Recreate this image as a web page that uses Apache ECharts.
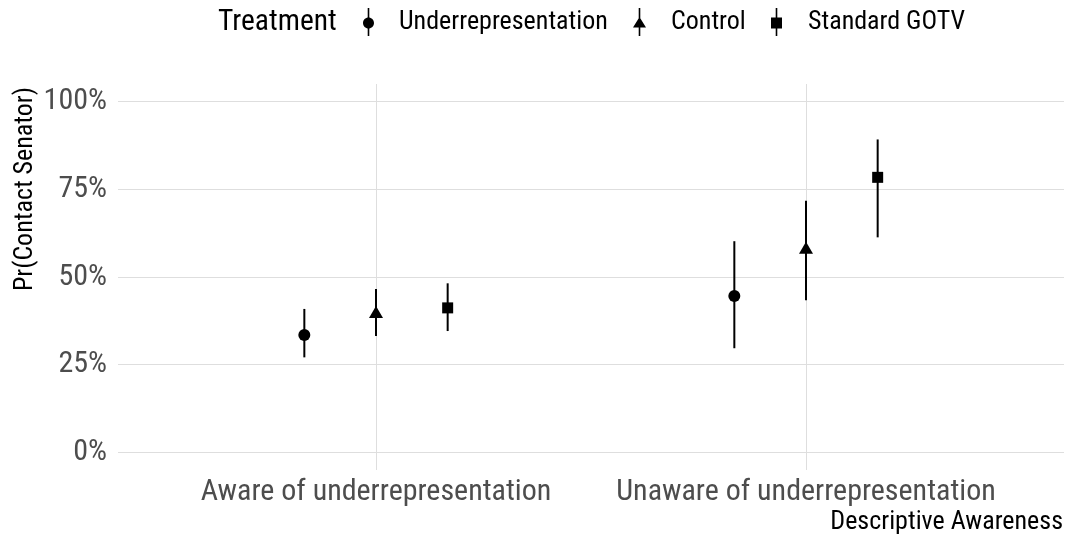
<!DOCTYPE html>
<html>
<head>
<meta charset="utf-8">
<script src="https://cdn.jsdelivr.net/npm/echarts@6/dist/echarts.min.js"></script>
<style>html,body{margin:0;padding:0;background:#fff;}#c{width:1066px;height:537px;}</style>
</head>
<body>
<div id="c"></div>
<script>
const categories = ['Aware of underrepresentation', 'Unaware of underrepresentation'];
const treatments = ['Underrepresentation', 'Control', 'Standard GOTV'];
// estimates per treatment, one value per category
const estUnderrep = [0.335, 0.446];
const lowUnderrep = [0.271, 0.297];
const highUnderrep = [0.409, 0.602];
const estControl = [0.400, 0.583];
const lowControl = [0.332, 0.434];
const highControl = [0.466, 0.717];
const estGotv = [0.412, 0.784];
const lowGotv = [0.346, 0.613];
const highGotv = [0.482, 0.892];
const yTicks = [0, 0.25, 0.5, 0.75, 1];

const FONT = '"Roboto Condensed", "Liberation Sans Narrow", "DejaVu Sans Condensed", "Roboto", sans-serif';
const dodge = [-1/6, 0, 1/6];
const symbols = ['circle', 'triangle', 'rect'];
const symbolSizes = [12, [14, 12], 11];
const est = [estUnderrep, estControl, estGotv];
const low = [lowUnderrep, lowControl, lowGotv];
const high = [highUnderrep, highControl, highGotv];

const series = [];
treatments.forEach((t, i) => {
  const rows = categories.map((c, j) => [j + 1 + dodge[i], est[i][j], low[i][j], high[i][j]]);
  series.push({
    name: t, type: 'custom', data: rows, encode: {x: 0, y: [2, 3]},
    renderItem: (params, api) => {
      const a = api.coord([api.value(0), api.value(2)]);
      const b = api.coord([api.value(0), api.value(3)]);
      return {type: 'line', shape: {x1: a[0], y1: a[1], x2: b[0], y2: b[1]},
        style: {stroke: '#000', lineWidth: 2}};
    }, z: 2
  });
  series.push({
    name: t, type: 'scatter', data: rows.map(r => [r[0], r[1]]),
    symbol: symbols[i], symbolSize: symbolSizes[i],
    itemStyle: {color: '#000', opacity: 1}, z: 3
  });
});

const icons = [
  'path://M7.2,0 H8.8 V28 H7.2 Z M2.5,15 C2.5,11.96 4.96,9.5 8,9.5 C11.04,9.5 13.5,11.96 13.5,15 C13.5,18.04 11.04,20.5 8,20.5 C4.96,20.5 2.5,18.04 2.5,15 Z',
  'path://M7.2,0 H8.8 V28 H7.2 Z M8,9 L14.5,19.5 L1.5,19.5 Z',
  'path://M7.2,0 H8.8 V28 H7.2 Z M2.5,9.5 H13.5 V20.5 H2.5 Z'
];
const iconW = [11, 13, 11];
const legendLeft = [363, 633, 771];
const textPad = [20, 20, 21];

const legends = treatments.map((t, i) => ({
  data: [{name: t, icon: icons[i]}],
  left: legendLeft[i], top: 8, orient: 'horizontal',
  itemWidth: iconW[i], itemHeight: 28, padding: 0,
  itemGap: 0, selectedMode: false,
  textStyle: {fontFamily: FONT, fontSize: 26, color: '#000', padding: [0, 0, 0, textPad[i]]},
  itemStyle: {color: '#000', opacity: 1}
}));

const chart = echarts.init(document.getElementById('c'), null, {renderer: 'canvas'});
chart.setOption({
  backgroundColor: '#fff',
  animation: false,
  legend: legends,
  grid: {left: 118, right: 2, top: 84, bottom: 67, containLabel: false},
  xAxis: {
    type: 'value', min: 0.4, max: 2.6,
    axisLine: {show: false},
    axisTick: {show: false, customValues: [1, 2]},
    axisLabel: {customValues: [1, 2], formatter: v => categories[Math.round(v) - 1] || '',
      fontFamily: FONT, fontSize: 30, color: '#4d4d4d', margin: 7},
    splitLine: {show: true, lineStyle: {color: '#dedede', width: 1}}
  },
  yAxis: {
    type: 'value', min: -0.05, max: 1.05,
    axisLine: {show: false},
    axisTick: {show: false, customValues: yTicks},
    axisLabel: {customValues: yTicks, formatter: v => Math.round(v * 100) + '%',
      fontFamily: FONT, fontSize: 30, color: '#4d4d4d', margin: 11, padding: [2, 0, 0, 0]},
    splitLine: {show: true, lineStyle: {color: '#dedede', width: 1}}
  },
  graphic: [
    {type: 'text', x: 218, y: 23, style: {text: 'Treatment', fontFamily: FONT, fontSize: 29.5, fill: '#000',
      verticalAlign: 'middle'}},
    {type: 'text', x: 1063, y: 522, style: {text: 'Descriptive Awareness', fontFamily: FONT, fontSize: 26,
      fill: '#000', align: 'right', verticalAlign: 'middle'}},
    {type: 'text', x: 25, y: 87, rotation: Math.PI / 2, style: {text: 'Pr(Contact Senator)', fontFamily: FONT,
      fontSize: 26, fill: '#000', align: 'right', verticalAlign: 'middle'}}
  ],
  series: series
});
</script>
</body>
</html>
